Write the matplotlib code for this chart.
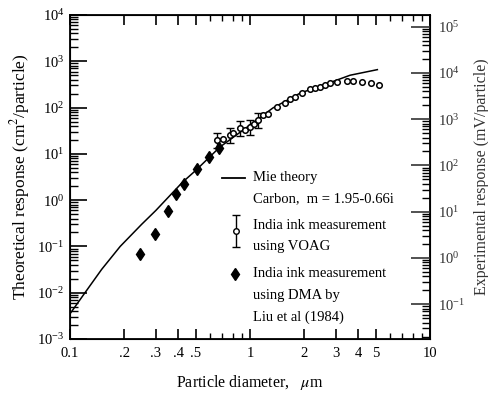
import numpy as np
import matplotlib.pyplot as plt
from matplotlib.ticker import FixedLocator, NullFormatter, LogLocator

plt.rcParams['font.family'] = ['Liberation Serif', 'DejaVu Serif']
plt.rcParams['mathtext.fontset'] = 'stix'

# Mie theory curve (carbon, m = 1.95-0.66i)
mie_d = [0.1, 0.12, 0.15, 0.19, 0.25, 0.3, 0.42, 0.5, 0.68, 1.0, 1.34, 1.9, 2.6, 3.6, 5.1]
mie_r = [0.0035, 0.0095, 0.032, 0.1, 0.3, 0.6, 2.4, 4.4, 14, 42, 98, 205, 315, 500, 660]

# India ink, VOAG (open circles)
voag_d = [0.656, 0.708, 0.774, 0.805, 0.88, 0.938, 1.0, 1.05, 1.11, 1.18, 1.26, 1.41,
          1.56, 1.67, 1.78, 1.94, 2.15, 2.30, 2.45, 2.61, 2.78, 3.04, 3.46, 3.73,
          4.19, 4.70, 5.21]
voag_r = [19.7, 20.7, 25.3, 27.9, 35.8, 32.4, 37.7, 43.8, 53, 68, 72, 102,
          124, 152, 168, 205, 250, 263, 277, 306, 337, 355, 373, 373,
          355, 337, 306]
voag_err = [1, 0, 1, 0, 1, 0, 1, 0, 1, 0, 0, 0, 0, 0, 0, 0, 0, 0, 0, 0, 0, 0, 0, 0, 0, 0, 0]

# India ink, DMA by Liu et al (1984) (diamonds)
dma_d = [0.245, 0.296, 0.35, 0.39, 0.43, 0.51, 0.59, 0.67]
dma_r = [0.068, 0.19, 0.57, 1.33, 2.2, 4.6, 8.5, 13.2]

xticks = [0.1, 0.2, 0.3, 0.4, 0.5, 1, 2, 3, 4, 5, 10]
xlabels = ['0.1', '.2', '.3', '.4', '.5', '1', '2', '3', '4', '5', '10']

fig = plt.figure(figsize=(4.89, 3.94), dpi=100)
ax = fig.add_axes([70/489, 55/394, 360/489, 324/394])

ax.plot(mie_d, mie_r, color='black', lw=1.1)

voag_d = np.array(voag_d)
voag_r = np.array(voag_r)
m = np.array(voag_err) == 1
lo = voag_r[m] - voag_r[m] / 1.45
hi = voag_r[m] * 1.45 - voag_r[m]
ax.errorbar(voag_d[m], voag_r[m], yerr=[lo, hi], fmt='none', ecolor='black',
            elinewidth=1, capsize=3)
ax.plot(voag_d, voag_r, 'o', ms=4, mfc='white', mec='black', mew=1.1)
ax.plot(dma_d, dma_r, 'd', ms=6.5, color='black')

ax.set_xscale('log')
ax.set_yscale('log')
ax.set_xlim(0.1, 10)
ax.set_ylim(1e-3, 1e4)
ax.xaxis.set_major_locator(FixedLocator(xticks))
ax.set_xticklabels(xlabels)
ax.xaxis.set_minor_locator(FixedLocator([0.6, 0.7, 0.8, 0.9, 6, 7, 8, 9]))
ax.xaxis.set_minor_formatter(NullFormatter())
ax.yaxis.set_major_locator(LogLocator(base=10, numticks=20))
ax.yaxis.set_minor_locator(LogLocator(base=10, subs=np.arange(2, 10), numticks=20))
ax.yaxis.set_minor_formatter(NullFormatter())

ax.tick_params(which='major', direction='in', top=True, length=7, width=1.2,
               labelsize=10.5, colors='black', pad=6)
ax.tick_params(which='minor', direction='in', top=True, length=4, width=1)
ax.tick_params(axis='y', which='major', length=12, pad=4)
ax.tick_params(axis='y', which='minor', length=6)
for s in ax.spines.values():
    s.set_linewidth(1.3)

ax.set_xlabel('Particle diameter,   $\\mu$m', fontsize=11.5, labelpad=9)
ax.set_ylabel('Theoretical response (cm$^2$/particle)', fontsize=12.5, labelpad=4)

ax2 = ax.twinx()
ax2.set_yscale('log')
ax2.set_ylim(10**-1.75, 10**5.25)
ax2.yaxis.set_major_locator(LogLocator(base=10, numticks=20))
ax2.yaxis.set_minor_locator(LogLocator(base=10, subs=np.arange(2, 10), numticks=20))
ax2.yaxis.set_minor_formatter(NullFormatter())
ax2.tick_params(which='major', direction='in', length=14, width=1.2, labelsize=10.5,
                colors='#333333', pad=6)
ax2.tick_params(which='minor', direction='in', length=6, width=1)
ax2.set_ylabel('Experimental response (mV/particle)', fontsize=11.5, color='#333333',
               labelpad=6)
ax2.xaxis.label.set_visible(False)

# legend drawn by hand
ax.plot([0.422, 0.486], [0.497, 0.497], color='black', lw=1.3, transform=ax.transAxes)
ax.errorbar([0.461], [0.333], yerr=[[0.05], [0.05]], fmt='o', ms=4, mfc='white',
            mec='black', ecolor='black', elinewidth=1, capsize=3,
            transform=ax.transAxes)
ax.plot([0.458], [0.201], 'd', ms=6, color='black', transform=ax.transAxes)
txt = [('Mie theory', 0.497), ('Carbon,  m = 1.95-0.66i', 0.432),
       ('India ink measurement', 0.349), ('using VOAG', 0.284),
       ('India ink measurement', 0.201), ('using DMA by', 0.133),
       ('Liu et al (1984)', 0.068)]
for t, y in txt:
    ax.text(0.508, y, t, transform=ax.transAxes, fontsize=10.5, va='center')

plt.savefig('out.png', dpi=100)
